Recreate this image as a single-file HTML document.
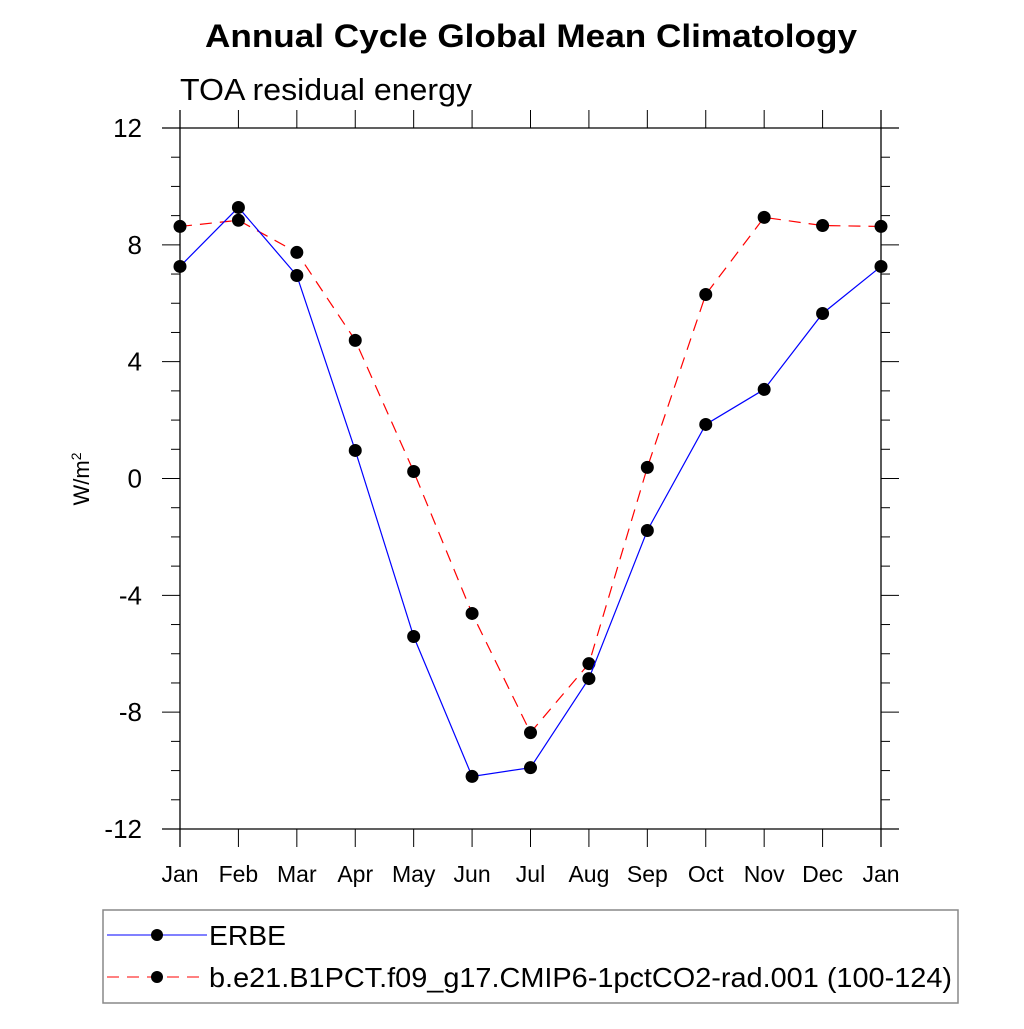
<!DOCTYPE html>
<html><head><meta charset="utf-8"><style>
body{margin:0;background:#fff}
svg text{font-family:"Liberation Sans",sans-serif}
</style></head><body>
<svg id="c" width="1024" height="1024" viewBox="0 0 1024 1024">
<text x="531" y="47" text-anchor="middle" font-size="32" font-weight="bold" textLength="652" lengthAdjust="spacingAndGlyphs">Annual Cycle Global Mean Climatology</text>
<text x="180" y="100" font-size="31" textLength="292" lengthAdjust="spacingAndGlyphs">TOA residual energy</text>
<text transform="translate(89,479) rotate(-90)" text-anchor="middle" font-size="22">W/m<tspan dy="-8" font-size="14">2</tspan></text>
<g id="axes"></g>
<g id="series"></g>
<rect x="103" y="910" width="855" height="93" fill="none" stroke="#888" stroke-width="1.5"/>
<g>
<line x1="107" y1="935" x2="207" y2="935" stroke="#0000ff" stroke-width="1"/>
<circle cx="157" cy="935" r="6" fill="#000"/>
<text x="209" y="945" font-size="28" textLength="77" lengthAdjust="spacingAndGlyphs">ERBE</text></g>
<g>
<line x1="107" y1="977" x2="207" y2="977" stroke="#ff0000" stroke-width="1" stroke-dasharray="12,8"/>
<circle cx="157" cy="977" r="6" fill="#000"/>
<text x="209" y="987" font-size="28" textLength="743" lengthAdjust="spacingAndGlyphs">b.e21.B1PCT.f09_g17.CMIP6-1pctCO2-rad.001 (100-124)</text></g>
</svg>
<script>
const months=["Jan","Feb","Mar","Apr","May","Jun","Jul","Aug","Sep","Oct","Nov","Dec","Jan"];
const erbe=[7.26,9.28,6.95,0.96,-5.41,-10.2,-9.9,-6.85,-1.78,1.85,3.05,5.65,7.26];
const model=[8.63,8.84,7.74,4.73,0.24,-4.62,-8.7,-6.34,0.38,6.3,8.94,8.66,8.63];
const yTicks=[-12,-8,-4,0,4,8,12];
const NS="http://www.w3.org/2000/svg";
const X0=180,X1=881,Y0=829,Y1=128;
const xs=i=>X0+(X1-X0)*i/12;
const ys=v=>Y0-(v+12)/24*(Y0-Y1);
function mk(t,a,p){const e=document.createElementNS(NS,t);for(const k in a)e.setAttribute(k,a[k]);p.appendChild(e);return e;}
const ax=document.getElementById('axes');
mk('line',{x1:X0,y1:Y1-18,x2:X0,y2:Y0+18,stroke:'#000','stroke-width':1.3},ax);
mk('line',{x1:X1,y1:Y1-18,x2:X1,y2:Y0+18,stroke:'#000','stroke-width':1.3},ax);
mk('line',{x1:X0-18,y1:Y0,x2:X1+18,y2:Y0,stroke:'#000','stroke-width':1.3},ax);
mk('line',{x1:X0-18,y1:Y1,x2:X1+18,y2:Y1,stroke:'#000','stroke-width':1.3},ax);
for(let v=-12;v<=12;v+=1){
  const y=ys(v);const maj=v%4===0;const L=maj?18:9;
  if(!(maj&&(v===-12||v===12))){
    mk('line',{x1:X0-L,y1:y,x2:X0,y2:y,stroke:'#000','stroke-width':1},ax);
    mk('line',{x1:X1,y1:y,x2:X1+L,y2:y,stroke:'#000','stroke-width':1},ax);
  }
}
yTicks.forEach(v=>{const t=mk('text',{x:142,y:ys(v)+9,'text-anchor':'end','font-size':26},ax);t.textContent=v;

});
months.forEach((m,i)=>{const x=xs(i);
 mk('line',{x1:x,y1:Y1-18,x2:x,y2:Y1,stroke:'#000','stroke-width':1},ax);
 mk('line',{x1:x,y1:Y0,x2:x,y2:Y0+18,stroke:'#000','stroke-width':1},ax);
 const t=mk('text',{x:x,y:882,'text-anchor':'middle','font-size':23},ax);t.textContent=m;
 
 });
const sg=document.getElementById('series');
function draw(d,col,dash,name){
 const p=mk('polyline',{points:d.map((v,i)=>xs(i)+','+ys(v)).join(' '),fill:'none',stroke:col,'stroke-width':1.2,'stroke-dasharray':dash},sg);
 
 
 d.forEach((v,i)=>{const c=mk('circle',{cx:xs(i),cy:ys(v),r:6.5,fill:'#000'},sg);
 
 });
}
draw(model,'#ff0000','12,8','model');
draw(erbe,'#0000ff','none','erbe');
</script>
</body></html>
